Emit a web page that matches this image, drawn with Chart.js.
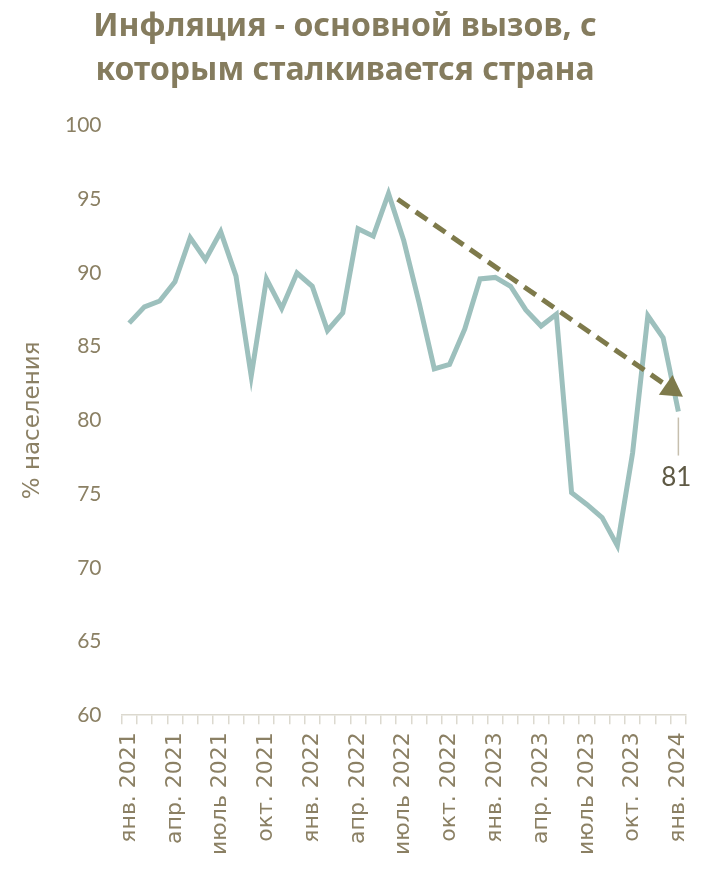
<!DOCTYPE html>
<html>
<head>
<meta charset="utf-8">
<script src="https://cdn.jsdelivr.net/npm/chart.js@4.4.1/dist/chart.umd.min.js"></script>
<style>
  body { margin: 0; background: #ffffff; }
  #wrap { width: 718px; height: 884px; }
</style>
</head>
<body>
<div id="wrap"><canvas id="inflationChart" width="718" height="884"></canvas></div>
<script>
// Months jan 2021 - jan 2024
const months = [
    "янв. 2021", "февр. 2021", "март 2021", "апр. 2021", "май 2021", "июнь 2021",
    "июль 2021", "авг. 2021", "сент. 2021", "окт. 2021", "нояб. 2021", "дек. 2021",
    "янв. 2022", "февр. 2022", "март 2022", "апр. 2022", "май 2022", "июнь 2022",
    "июль 2022", "авг. 2022", "сент. 2022", "окт. 2022", "нояб. 2022", "дек. 2022",
    "янв. 2023", "февр. 2023", "март 2023", "апр. 2023", "май 2023", "июнь 2023",
    "июль 2023", "авг. 2023", "сент. 2023", "окт. 2023", "нояб. 2023", "дек. 2023",
    "янв. 2024"
];

// % of population naming inflation as the main challenge
const shareValues = [
    86.6, 87.7, 88.1, 89.4, 92.4, 90.9, 92.8, 89.8, 83.0, 89.6, 87.6, 90.0,
    89.1, 86.1, 87.3, 93.0, 92.5, 95.4, 92.2, 88.0, 83.5, 83.8, 86.2, 89.6,
    89.7, 89.1, 87.5, 86.4, 87.2, 75.1, 74.3, 73.4, 71.5, 77.8, 87.1, 85.6,
    80.6
];

const yTicks = [60, 65, 70, 75, 80, 85, 90, 95, 100];

// Trend arrow: [category index, value] for start and tip
const trendStart = [17.6, 95.0];
const trendEnd = [36.3, 81.6];

const textColor = '#8b8064';
const lineColor = '#9dc0bd';
const arrowColor = '#7e7a4b';

// draws the dashed trend arrow and the last-value label
const annotationsPlugin = {
    id: 'annotations',
    afterDatasetsDraw(chart) {
        const ctx = chart.ctx;
        const x = chart.scales.x;
        const y = chart.scales.y;

        const x1 = x.getPixelForValue(trendStart[0]);
        const y1 = y.getPixelForValue(trendStart[1]);
        const x2 = x.getPixelForValue(trendEnd[0]);
        const y2 = y.getPixelForValue(trendEnd[1]);
        const ang = Math.atan2(y2 - y1, x2 - x1);
        const headLen = 21;
        const headW = 12;
        const bx = x2 - headLen * Math.cos(ang);
        const by = y2 - headLen * Math.sin(ang);

        ctx.save();
        ctx.strokeStyle = arrowColor;
        ctx.lineWidth = 5;
        ctx.setLineDash([14, 8]);
        ctx.beginPath();
        ctx.moveTo(x1, y1);
        ctx.lineTo(bx, by);
        ctx.stroke();
        ctx.setLineDash([]);
        ctx.fillStyle = arrowColor;
        ctx.beginPath();
        ctx.moveTo(x2, y2);
        ctx.lineTo(bx + headW * Math.sin(ang), by - headW * Math.cos(ang));
        ctx.lineTo(bx - headW * Math.sin(ang), by + headW * Math.cos(ang));
        ctx.closePath();
        ctx.fill();

        // last value label with leader line
        const last = shareValues.length - 1;
        const px = x.getPixelForValue(last);
        const py = y.getPixelForValue(shareValues[last]);
        ctx.strokeStyle = '#c6bfae';
        ctx.lineWidth = 1.5;
        ctx.beginPath();
        ctx.moveTo(px, py + 6);
        ctx.lineTo(px, py + 44);
        ctx.stroke();
        ctx.fillStyle = '#5f5a45';
        ctx.font = '26px Lato';
        ctx.textAlign = 'center';
        ctx.textBaseline = 'middle';
        ctx.fillText(String(Math.round(shareValues[last])), px - 2, py + 66);
        ctx.restore();
    }
};

const ctx = document.getElementById('inflationChart').getContext('2d');
const inflationChart = new Chart(ctx, {
    type: 'line',
    data: {
        labels: months,
        datasets: [{
            data: shareValues,
            borderColor: lineColor,
            borderWidth: 5,
            pointRadius: 0,
            tension: 0,
            fill: false
        }]
    },
    options: {
        responsive: false,
        animation: false,
        layout: { padding: { left: 4, right: 32, top: 4, bottom: 21 } },
        plugins: {
            legend: { display: false },
            tooltip: { enabled: false },
            title: {
                display: true,
                text: ['Инфляция - основной вызов, с', 'которым сталкивается страна'],
                color: '#857c5e',
                font: { family: 'Noto Sans', size: 32, weight: 'bold', lineHeight: 1.4 },
                padding: { top: 0, bottom: 32 }
            }
        },
        scales: {
            x: {
                offset: true,
                grid: {
                    display: true,
                    offset: true,
                    drawOnChartArea: false,
                    drawTicks: true,
                    tickLength: 9,
                    color: '#dcd9cf',
                    lineWidth: 1.5
                },
                border: { display: true, color: '#dcd9cf', width: 1.5 },
                ticks: {
                    autoSkip: false,
                    maxRotation: 90,
                    minRotation: 90,
                    color: textColor,
                    padding: 8,
                    font: { family: 'DejaVu Sans', size: 22 },
                    callback: function (val, i) {
                        return i % 3 === 0 ? months[i] : '';
                    }
                }
            },
            y: {
                min: 60,
                max: 100,
                afterBuildTicks: function (axis) {
                    axis.ticks = yTicks.map(v => ({ value: v }));
                },
                grid: { display: false, drawTicks: false },
                border: { display: false },
                ticks: {
                    color: textColor,
                    padding: 20,
                    font: { family: 'Lato', size: 21 }
                },
                title: {
                    display: true,
                    text: '% населения',
                    color: textColor,
                    font: { family: 'DejaVu Sans', size: 23, lineHeight: 1 },
                    padding: { top: 18, bottom: 0 }
                }
            }
        }
    },
    plugins: [annotationsPlugin]
});
</script>
</body>
</html>
